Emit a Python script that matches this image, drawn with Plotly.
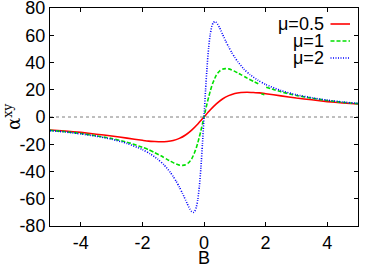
import plotly.graph_objects as go

# mu = 0.5 (red, solid)
B_red = [-5, -4.5, -4, -3.5, -3, -2.5, -2, -1.8, -1.6, -1.4, -1.2, -1.0, -0.8, -0.6, -0.4, -0.2, 0,
         0.2, 0.4, 0.6, 0.8, 1.0, 1.2, 1.4, 1.6, 1.8, 2, 2.5, 3, 3.5, 4, 4.5, 5]
A_red = [-9.5, -10.3, -11.3, -12.6, -13.9, -15.5, -17.1, -17.7, -18.0, -18.2, -18.0, -17.3, -15.7, -13.2, -9.6, -5.1, 0,
         5.1, 9.6, 13.2, 15.7, 17.3, 18.0, 18.2, 18.0, 17.7, 17.1, 15.5, 13.9, 12.6, 11.3, 10.3, 9.5]

# mu = 1 (green, dashed) -- includes the small glitch near B~1.9
B_green = [-5, -4.5, -4, -3.5, -3, -2.5, -2, -1.8, -1.6, -1.4, -1.2, -1.1, -1.0, -0.9, -0.8, -0.7, -0.6, -0.5,
           -0.4, -0.3, -0.25, -0.2, -0.15, -0.1, -0.05, 0,
           0.05, 0.1, 0.15, 0.2, 0.25, 0.3, 0.4, 0.5, 0.6, 0.7, 0.8, 0.9, 1.0, 1.1, 1.2, 1.4, 1.6, 1.8,
           None, 1.86, 1.96, None, 2.02, 2.5, 3, 3.5, 4, 4.5, 5]
A_green = [-9.8, -10.8, -12.1, -13.8, -15.8, -18.5, -22.2, -24.0, -26.2, -28.5, -31.1, -32.3, -33.5, -34.5, -35.3, -35.5,
           -35.1, -33.6, -30.7, -25.7, -22.6, -18.8, -14.5, -10.0, -5.1, 0,
           5.1, 10.0, 14.5, 18.8, 22.6, 25.7, 30.7, 33.6, 35.1, 35.5, 35.3, 34.5, 33.5, 32.3, 31.1, 28.5, 26.2, 24.0,
           None, 17.0, 16.4, None, 21.9, 18.5, 15.8, 13.8, 12.1, 10.8, 9.8]

# mu = 2 (blue, dotted)
B_blue = [-5, -4.5, -4, -3.5, -3, -2.5, -2, -1.75, -1.5, -1.3, -1.1, -1.0, -0.9, -0.8, -0.7, -0.65, -0.6, -0.55,
          -0.5, -0.45, -0.4, -0.35, -0.3, -0.25, -0.2, -0.15, -0.1, -0.05, 0,
          0.05, 0.1, 0.15, 0.2, 0.25, 0.3, 0.35, 0.4, 0.45, 0.5, 0.55, 0.6, 0.65, 0.7, 0.8, 0.9, 1.0, 1.1, 1.3,
          1.5, 1.75, 2, 2.5, 3, 3.5, 4, 4.5, 5]
A_blue = [-10.0, -11.0, -12.4, -14.1, -16.3, -19.4, -23.9, -27.0, -31.0, -35.1, -40.5, -43.7, -47.3, -51.4, -56.0,
          -58.4, -60.9, -63.4, -65.8, -67.8, -69.4, -70.0, -69.2, -66.2, -60.3, -50.7, -37.0, -19.6, 0,
          19.6, 37.0, 50.7, 60.3, 66.2, 69.2, 70.0, 69.4, 67.8, 65.8, 63.4, 60.9, 58.4, 56.0, 51.4, 47.3, 43.7,
          40.5, 35.1, 31.0, 27.0, 23.9, 19.4, 16.3, 14.1, 12.4, 11.0, 10.0]

legend_labels = ["μ=0.5", "μ=1", "μ=2"]
colors = ["#ff0000", "#00e000", "#0000ff"]
dashes = ["solid", "4px,2px", "1px,1.5px"]

x_ticks = [-4, -2, 0, 2, 4]
y_ticks = [-80, -60, -40, -20, 0, 20, 40, 60, 80]

fig = go.Figure()
series = [(B_red, A_red), (B_green, A_green), (B_blue, A_blue)]
for (bx, ay), c, d, name in zip(series, colors, dashes, legend_labels):
    fig.add_trace(go.Scatter(x=bx, y=ay, mode="lines", name=name,
                             line=dict(color=c, width=1.6, dash=d, shape="spline", smoothing=0.6),
                             connectgaps=False, showlegend=False, hoverinfo="skip"))

FONT = "Liberation Sans, Arial, sans-serif"
L, R, T, Bm = 50, 16, 8, 42
W, H = 374, 268
pw = W - L - R
ph = H - T - Bm

# zero axis
fig.add_shape(type="line", xref="paper", yref="y", x0=0, x1=1, y0=0, y1=0,
              line=dict(color="#7f7f7f", width=1, dash="3px,3px"), layer="below")

# gnuplot-style key: text right-aligned, sample on the right
key_text_right = 325.5
key_rows = [24, 41, 58]
for lab, c, d, yr in zip(legend_labels, colors, dashes, key_rows):
    yp = 1 - (yr - T) / ph
    fig.add_annotation(xref="paper", yref="paper", x=(key_text_right - L) / pw, y=yp,
                       text=lab, showarrow=False, xanchor="right", yanchor="middle",
                       font=dict(family=FONT, size=18, color="black"))
    fig.add_shape(type="line", xref="paper", yref="paper",
                  x0=(330.5 - L) / pw, x1=(350 - L) / pw, y0=yp, y1=yp,
                  line=dict(color=c, width=1.6, dash=d))

# y-axis label
fig.add_annotation(xref="paper", yref="paper", x=0, y=0.5, xshift=-38, text="α<sup>xy</sup>",
                   textangle=-90, showarrow=False, xanchor="center", yanchor="middle",
                   font=dict(family="DejaVu Serif, serif", size=18, color="black"))

axis_common = dict(showline=True, linecolor="black", linewidth=1, mirror="ticks",
                   ticks="inside", ticklen=4, tickcolor="black", showgrid=False, zeroline=False,
                   ticklabeloverflow="allow", automargin=False,
                   tickfont=dict(family=FONT, size=18, color="black"))

fig.update_xaxes(range=[-5, 5], tickvals=x_ticks, ticktext=[str(v) for v in x_ticks],
                 title=dict(text="B", font=dict(family=FONT, size=18, color="black"), standoff=0),
                 **axis_common)
fig.update_yaxes(range=[-80, 80], tickvals=y_ticks, ticktext=[str(v) for v in y_ticks],
                 **axis_common)

fig.update_layout(width=W, height=H, margin=dict(l=L, r=R, t=T, b=Bm, pad=0, autoexpand=False),
                  paper_bgcolor="white", plot_bgcolor="white")

fig.write_html("out.html", config={"displayModeBar": False, "staticPlot": True},
               post_script="document.body.style.margin='0px';document.body.style.padding='0px';"
                           "document.documentElement.style.overflow='hidden';")
